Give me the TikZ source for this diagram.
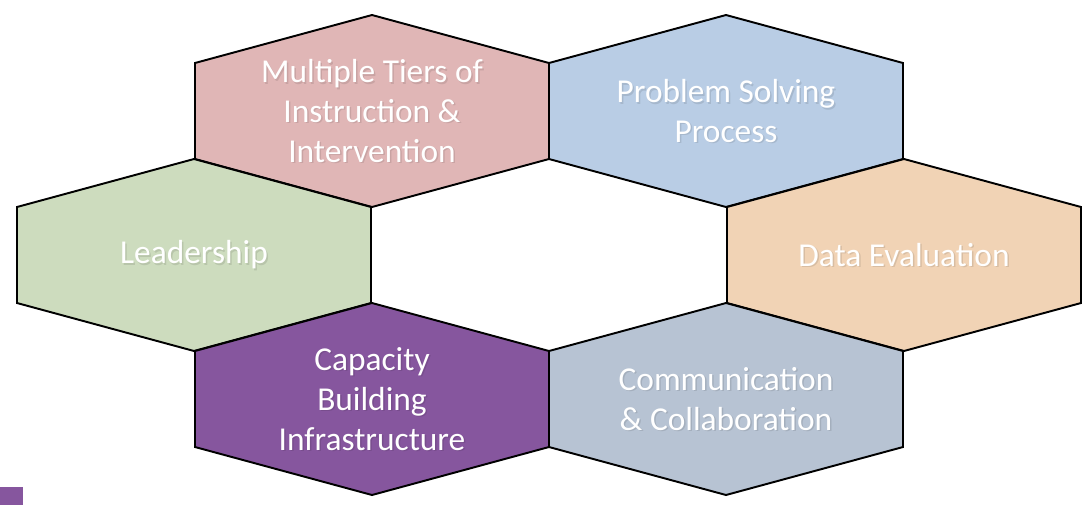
\documentclass[tikz,border=0pt]{standalone}
\usepackage{fontspec}
\setmainfont{Carlito}
\definecolor{hpink}{RGB}{224,182,182}
\definecolor{hblue}{RGB}{185,205,229}
\definecolor{hgreen}{RGB}{205,220,190}
\definecolor{hpeach}{RGB}{241,211,181}
\definecolor{hpurple}{RGB}{134,86,158}
\definecolor{hgrey}{RGB}{183,195,211}
\tikzset{
  hexline/.style={draw=black, line width=1.1pt, line join=miter},
  hexlabel/.style={text=white, align=center, font=\fontsize{19}{22.7}\selectfont, inner sep=0pt},
  hexshadow/.style={text=black, opacity=0.1, align=center, font=\fontsize{19}{22.7}\selectfont, inner sep=0pt},
}
\newcommand{\myhex}[5]{%
  \path[hexline, fill=#3] (#1,#2) ++(0,-96) -- ++(177,48) -- ++(0,96) -- ++(-177,48) -- ++(-177,-48) -- ++(0,-96) -- cycle;
  \node[hexshadow] at (#1+1.5,#2+1.5) {#5};
  \node[hexlabel] (#4) at (#1,#2) {#5};
}
\begin{document}
\begin{tikzpicture}[x=0.02cm,y=-0.02cm]
\useasboundingbox (0,0) rectangle (1082,505);
\myhex{372}{111}{hpink}{tiers}{Multiple Tiers of\\Instruction \&\\Intervention}
\myhex{726}{111}{hblue}{problem}{Problem Solving\\Process}
\myhex{194}{255}{hgreen}{leader}{Leadership}
\myhex{904}{255}{hpeach}{data}{Data Evaluation}
\myhex{372}{399}{hpurple}{capacity}{Capacity\\Building\\Infrastructure}
\myhex{726}{399}{hgrey}{comm}{Communication\\\& Collaboration}
\fill[hpurple] (0,487) rectangle (23,505);
\end{tikzpicture}
\end{document}
